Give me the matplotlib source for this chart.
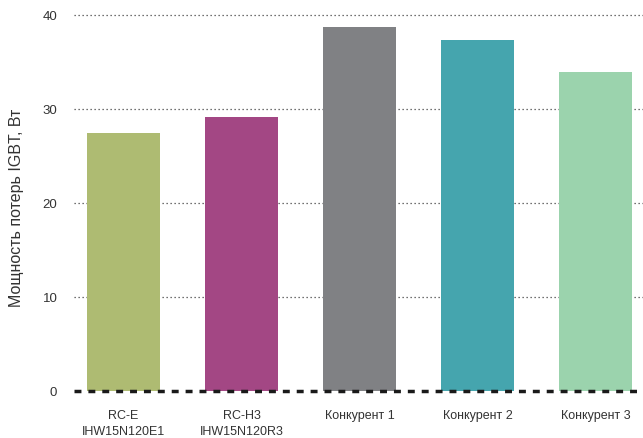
import matplotlib.pyplot as plt

# Данные
categories = ["RC-E\nIHW15N120E1", "RC-H3\nIHW15N120R3", "Конкурент 1", "Конкурент 2", "Конкурент 3"]
values = [27.5, 29.1, 38.7, 37.3, 33.9]
colors = ["#AEBB72", "#A34784", "#808184", "#45A5AE", "#9BD3AD"]
yticks = [0, 10, 20, 30, 40]

plt.rcParams["font.family"] = ["Liberation Sans", "DejaVu Sans"]

fig = plt.figure(figsize=(6.43, 4.39), dpi=100)
ax = fig.add_axes([74 / 643, 47 / 439, 569 / 643, 376 / 439])

x = list(range(len(categories)))
ax.bar(x, values, width=0.62, color=colors, zorder=3)

# Сетка
for v in yticks[1:]:
    ax.axhline(v, color="#444444", linestyle=(0, (1, 2.2)), linewidth=0.9, zorder=1, clip_on=False)
ax.axhline(0, color="#1a1a1a", linestyle=(0, (2, 2)), linewidth=2.5, zorder=4, clip_on=False)

ax.set_xlim(-0.42, 4.40)
ax.set_ylim(0, 40)
ax.set_yticks(yticks)
ax.set_yticklabels([str(v) for v in yticks], fontsize=9.5, color="#333333")
ax.set_xticks(x)
ax.set_xticklabels(categories, fontsize=9, color="#333333", linespacing=1.45)
ax.tick_params(axis="both", length=0)
ax.tick_params(axis="y", pad=12)
ax.tick_params(axis="x", pad=13)
ax.set_ylabel("Мощность потерь IGBT, Вт", fontsize=11.5, color="#333333")
ax.yaxis.set_label_coords(-0.087, 0.49)

for s in ax.spines.values():
    s.set_visible(False)

plt.savefig("out.png", dpi=100)
plt.close()
